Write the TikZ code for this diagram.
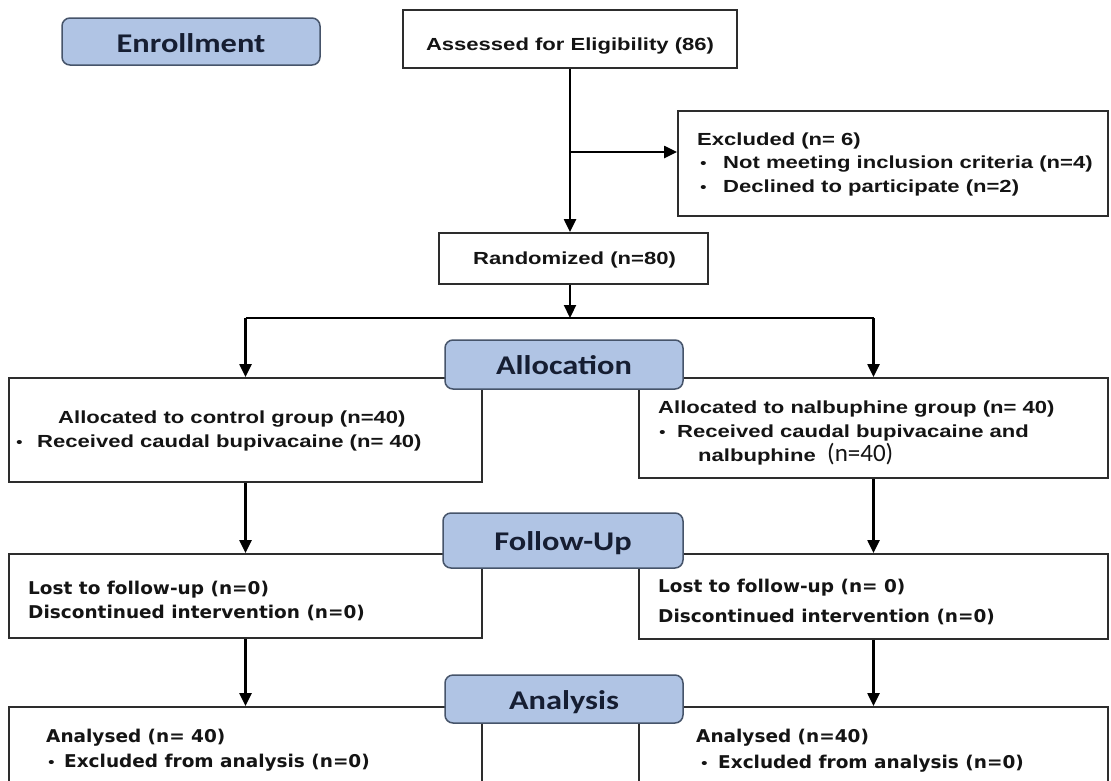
\documentclass[tikz,border=0pt]{standalone}
\usepackage{fontspec}
\usetikzlibrary{arrows.meta}
\newfontfamily\Afont{Liberation Sans}[FakeStretch=1.26]
\newfontfamily\Vfont{DejaVu Sans}[FakeStretch=1.05]
\newfontfamily\Cfont{Carlito}[FakeStretch=1.2]
\newfontfamily\Cnfont{Carlito}
\definecolor{headfill}{RGB}{176,196,228}
\definecolor{headline}{RGB}{70,84,106}
\definecolor{headtext}{RGB}{22,30,50}
\definecolor{boxline}{RGB}{45,45,45}
\definecolor{txt}{RGB}{20,20,20}
\begin{document}
\begin{tikzpicture}[x=1pt,y=-1pt,
  box/.style={draw=boxline,line width=1.8pt,fill=white,inner sep=0pt},
  head/.style={draw=headline,line width=1.5pt,fill=headfill,rounded corners=8pt,inner sep=0pt},
  htext/.style={inner sep=0pt,anchor=base,text=headtext,font=\Cfont\bfseries\fontsize{27}{27}\selectfont},
  ta/.style={inner sep=0pt,anchor=base west,text=txt,font=\Afont\bfseries\fontsize{17.5}{20}\selectfont},
  tv/.style={inner sep=0pt,anchor=base west,text=txt,font=\Vfont\bfseries\fontsize{17.6}{20}\selectfont},
  tn/.style={inner sep=0pt,anchor=base west,text=txt,font=\Cnfont\fontsize{25}{25}\selectfont},
  bul/.style={inner sep=0pt,anchor=base west,text=txt,font=\Afont\fontsize{15}{15}\selectfont},
  conn/.style={line width=2.2pt,draw=black},
  arr/.style={conn,-{Triangle[length=13pt,width=12pt]}}]
\useasboundingbox (0,0) rectangle (1111,780);
\clip (0,0) rectangle (1111,780);
\fill[white] (0,0) rectangle (1111,780);

% boxes
\node[box,minimum width=334pt,minimum height=58pt] (assess) at (570,39) {};
\node[box,minimum width=430pt,minimum height=105pt] (excl) at (893,163.5) {};
\node[box,minimum width=269pt,minimum height=51pt] (rand) at (573.5,258.5) {};
\node[box,minimum width=473pt,minimum height=104pt] (allocL) at (245.5,430) {};
\node[box,minimum width=469pt,minimum height=100pt] (allocR) at (873.5,428) {};
\node[box,minimum width=473pt,minimum height=84pt] (fuL) at (245.5,596) {};
\node[box,minimum width=469pt,minimum height=85pt] (fuR) at (873.5,596.5) {};
\node[box,minimum width=473pt,minimum height=90pt] (anL) at (245.5,752) {};
\node[box,minimum width=469pt,minimum height=90pt] (anR) at (873.5,752) {};

% texts
\node[ta,anchor=base] (tassess) at (570,50) {Assessed for Eligibility (86)};
\node[ta] (ex1) at (697,145) {Excluded (n= 6)};
\node[bul] (exb1) at (700,168) {•};
\node[ta] (ex2) at (723,168) {Not meeting inclusion criteria (n=4)};
\node[bul] (exb2) at (700,192) {•};
\node[ta] (ex3) at (723,192) {Declined to participate (n=2)};
\node[ta,anchor=base] (trand) at (574.5,264) {Randomized (n=80)};

\node[ta] (al1) at (58,423) {Allocated to control group (n=40)};
\node[bul] (alb) at (16,447) {•};
\node[ta] (al2) at (37,447) {Received caudal bupivacaine (n= 40)};

\node[ta] (ar1) at (658,413) {Allocated to nalbuphine group (n= 40)};
\node[bul] (arb) at (659,437) {•};
\node[ta] (ar2) at (677,437) {Received caudal bupivacaine and};
\node[ta] (ar3) at (698,461) {nalbuphine};
\node[tn] (ar4) at (827,461) {(n=40)};

\node[tv] (fl1) at (28,594) {Lost to follow-up (n=0)};
\node[tv] (fl2) at (28,618) {Discontinued intervention (n=0)};
\node[tv] (fr1) at (658,592) {Lost to follow-up (n= 0)};
\node[tv] (fr2) at (658,622) {Discontinued intervention (n=0)};

\node[tv] (nl1) at (46,742) {Analysed (n= 40)};
\node[bul] (nlb) at (48,767) {•};
\node[tv] (nl2) at (64,767) {Excluded from analysis (n=0)};
\node[tv] (nr1) at (696,742) {Analysed (n=40)};
\node[bul] (nrb) at (701,768) {•};
\node[tv] (nr2) at (718,768) {Excluded from analysis (n=0)};

% connectors
\draw[arr] (assess.south) -- (assess.south |- rand.north);
\coordinate (br) at (570,152);
\draw[arr] (br) -- (br -| excl.west);
\coordinate (jc) at (570,318);
\draw[arr] (jc |- rand.south) -- (jc);
\coordinate (jl) at (allocL.north |- jc);
\coordinate (jr) at (allocR.north |- jc);
\draw[conn] (jl) -- (jr);
\draw[arr] (jl) -- (allocL.north);
\draw[arr] (jr) -- (allocR.north);
\draw[arr] (allocL.south) -- (fuL.north);
\draw[arr] (allocR.south) -- (fuR.north);
\draw[arr] (fuL.south) -- (anL.north);
\draw[arr] (fuR.south) -- (anR.north);

% stage headers
\node[head,minimum width=258pt,minimum height=47pt] (enroll) at (191,41.5) {};
\node[htext] (tenroll) at (191,52) {Enrollment};
\node[head,minimum width=238pt,minimum height=49pt] (alloc) at (564,364.5) {};
\node[htext] (talloc) at (564,374.5) {Allocation};
\node[head,minimum width=240pt,minimum height=55pt] (follow) at (563,540.5) {};
\node[htext] (tfollow) at (563,550) {Follow-Up};
\node[head,minimum width=238pt,minimum height=48pt] (analysis) at (564,699) {};
\node[htext] (tanalysis) at (564,709) {Analysis};
\end{tikzpicture}
\end{document}
